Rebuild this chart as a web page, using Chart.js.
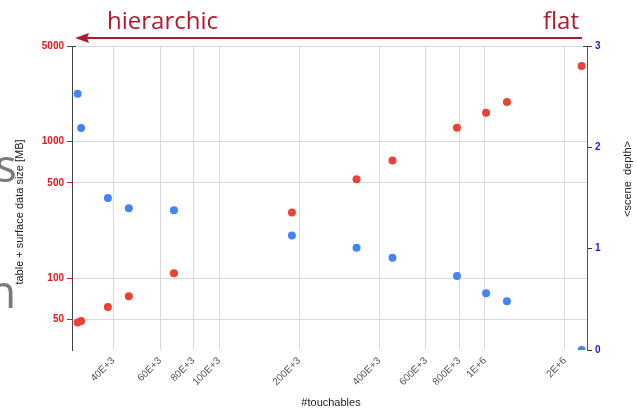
<!DOCTYPE html>
<html>
<head>
<meta charset="utf-8">
<script src="https://cdn.jsdelivr.net/npm/chart.js@4/dist/chart.umd.min.js"></script>
<style>
    html, body { margin: 0; padding: 0; background: #ffffff; }
    #wrap { width: 637px; height: 410px; }
</style>
</head>
<body>
<div id="wrap"><canvas id="depthChart" width="637" height="410"></canvas></div>
<script>
// values
const touchables = [29400, 30300, 38200, 45800, 67700, 188000, 329000, 449000, 785000, 1010000, 1210000, 2310000];
const dataSizeMB = [47.6, 48.9, 61.8, 74, 109, 304, 532, 728, 1265, 1626, 1946, 3577];
const sceneDepth = [2.53, 2.19, 1.50, 1.40, 1.38, 1.13, 1.01, 0.91, 0.73, 0.56, 0.48, 0];

const xTicks = [40000, 60000, 80000, 100000, 200000, 400000, 600000, 800000, 1000000, 2000000];
const xTickLabels = ['40E+3', '60E+3', '80E+3', '100E+3', '200E+3', '400E+3', '600E+3', '800E+3', '1E+6', '2E+6'];
const sizeTicks = [50, 100, 500, 1000, 5000];
const depthTicks = [0, 1, 2, 3];

const titleRed = '#b3192e';

// everything around the plot: slide text, arrow, axis titles
const decorations = {
    id: 'decorations',
    afterDraw(chart) {
        const ctx = chart.ctx;
        ctx.save();

        // cut-off slide text on the left
        ctx.fillStyle = '#7a7a7a';
        ctx.font = '46px "Open Sans", sans-serif';
        ctx.textAlign = 'left';
        ctx.textBaseline = 'alphabetic';
        ctx.fillText('s', -5, 182);
        ctx.fillText('n', -12, 308);

        // hierarchic <---- flat
        ctx.fillStyle = titleRed;
        ctx.font = '24px "Open Sans", sans-serif';
        ctx.fillText('hierarchic', 107, 29);
        ctx.textAlign = 'right';
        ctx.fillText('flat', 579, 29);

        ctx.strokeStyle = titleRed;
        ctx.lineWidth = 2;
        ctx.beginPath();
        ctx.moveTo(84, 38);
        ctx.lineTo(582, 38);
        ctx.stroke();
        ctx.beginPath();
        ctx.moveTo(75, 38);
        ctx.lineTo(89, 33);
        ctx.lineTo(87, 38);
        ctx.lineTo(89, 43);
        ctx.closePath();
        ctx.fill();

        // axis titles
        ctx.fillStyle = '#222222';
        ctx.font = '11px "Liberation Sans", Arial, sans-serif';
        ctx.textAlign = 'center';
        ctx.textBaseline = 'middle';
        ctx.translate(20, 212);
        ctx.rotate(-Math.PI / 2);
        ctx.fillText('table + surface data size [MB]', 0, 0);
        ctx.setTransform(1, 0, 0, 1, 0, 0);
        ctx.translate(628, 179);
        ctx.rotate(-Math.PI / 2);
        ctx.fillText('<scene  depth>', 0, 0);
        ctx.setTransform(1, 0, 0, 1, 0, 0);
        ctx.fillText('#touchables', 331, 403);

        // small caps on the ends of the two vertical axes
        ctx.strokeStyle = '#444444';
        ctx.lineWidth = 1;
        ctx.beginPath();
        ctx.moveTo(68, 46.5);
        ctx.lineTo(76, 46.5);
        ctx.moveTo(583, 46.5);
        ctx.lineTo(591, 46.5);
        ctx.stroke();

        ctx.restore();
    }
};

const chart = new Chart(document.getElementById('depthChart'), {
    type: 'scatter',
    data: {
        datasets: [{
            label: 'data size',
            data: touchables.map((x, i) => ({ x: x, y: dataSizeMB[i] })),
            yAxisID: 'ySize',
            backgroundColor: '#ea4335',
            borderWidth: 0,
            pointRadius: 4,
            clip: 0
        }, {
            label: 'scene depth',
            data: touchables.map((x, i) => ({ x: x, y: sceneDepth[i] })),
            yAxisID: 'yDepth',
            backgroundColor: '#4285f4',
            borderWidth: 0,
            pointRadius: 4,
            clip: 0
        }]
    },
    options: {
        responsive: false,
        animation: false,
        devicePixelRatio: 1,
        layout: { padding: { top: 46, left: 0, right: 0, bottom: 0 } },
        plugins: {
            legend: { display: false },
            tooltip: { enabled: false }
        },
        scales: {
            x: {
                type: 'logarithmic',
                min: 28000,
                max: 2420000,
                afterBuildTicks: function(scale) {
                    scale.ticks = xTicks.map(v => ({ value: v }));
                },
                afterFit: function(scale) { scale.height = 60; },
                border: { display: false },
                grid: { color: '#d9d9d9', drawTicks: false },
                ticks: {
                    autoSkip: false,
                    maxRotation: 45,
                    minRotation: 45,
                    padding: 5,
                    color: '#555555',
                    font: { family: '"Liberation Sans", Arial, sans-serif', size: 10 },
                    callback: function(value) {
                        return xTickLabels[xTicks.indexOf(value)];
                    }
                }
            },
            ySize: {
                type: 'logarithmic',
                position: 'left',
                min: 30,
                max: 5000,
                afterBuildTicks: function(scale) {
                    scale.ticks = sizeTicks.map(v => ({ value: v }));
                },
                afterFit: function(scale) { scale.width = 72; },
                border: { color: '#444444' },
                grid: { color: '#d9d9d9', tickColor: '#e8161b', tickLength: 5 },
                ticks: {
                    padding: 3,
                    color: '#e8161b',
                    font: { family: '"Liberation Sans", Arial, sans-serif', size: 10, weight: 'bold' },
                    callback: function(value) { return String(value); }
                }
            },
            yDepth: {
                type: 'linear',
                position: 'right',
                min: 0,
                max: 3,
                afterBuildTicks: function(scale) {
                    scale.ticks = depthTicks.map(v => ({ value: v }));
                },
                afterFit: function(scale) { scale.width = 50; },
                border: { color: '#555555' },
                grid: { drawOnChartArea: false, tickColor: '#333333', tickLength: 5 },
                ticks: {
                    padding: 3,
                    color: '#1a1ae6',
                    font: { family: '"Liberation Sans", Arial, sans-serif', size: 10, weight: 'bold' }
                }
            }
        }
    },
    plugins: [decorations]
});
</script>
</body>
</html>
